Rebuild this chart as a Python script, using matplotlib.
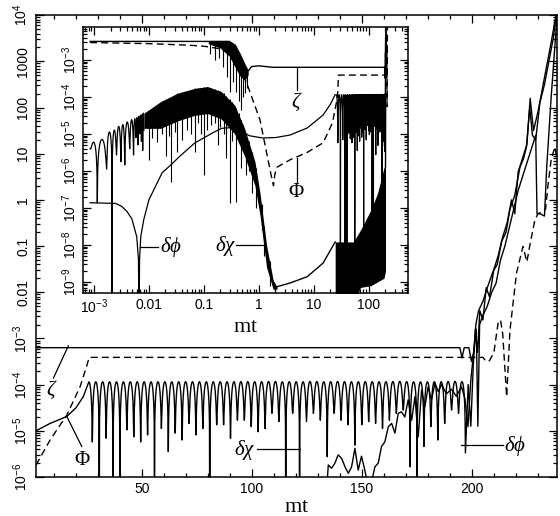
import numpy as np
import matplotlib
matplotlib.use("Agg")
import matplotlib.pyplot as plt
from matplotlib.ticker import MultipleLocator, LogLocator, NullFormatter

plt.rcParams['font.family'] = ['Liberation Sans', 'DejaVu Sans']
plt.rcParams['mathtext.fontset'] = 'custom'
plt.rcParams['mathtext.rm'] = 'Liberation Serif'
plt.rcParams['mathtext.it'] = 'Liberation Serif:italic'
plt.rcParams['mathtext.sf'] = 'Liberation Sans'

# all curve values below are log10 of the plotted quantity

# ---- main panel, mt linear ----
zeta_t = [1.8, 194.5, 195.5, 196.5, 198.6, 199.8, 200.8, 201.8, 203, 205, 207, 209.6,
          211.5, 213.5, 215.5, 217.3, 219.5, 221.8, 223.5, 224.8, 226.3, 227.5, 229,
          230.9, 233, 235, 237, 238.6]
zeta_v = [-3.2, -3.2, -3.42, -3.2, -3.2, -3.5, -3.3, -2.7, -2.4, -2.2, -1.9, -1.55,
          -1.4, -0.9, -0.7, -0.2, 0.1, 0.7, 0.9, 1.15, 2.0, 1.4, 1.3,
          2.1, 2.5, 3.0, 3.5, 4.1]

phi_t = [1.8, 8.2, 15.8, 21.8, 24.5, 26.0, 205, 206.5, 208, 210, 211.9, 213, 214,
         215.8, 217.3, 220.3, 223.2, 225, 226.5, 228.6, 230, 232, 233.5, 234.5, 236,
         237.7, 238.6]
phi_v = [-5.74, -5.2, -4.66, -4.05, -3.65, -3.41, -3.41, -3.5, -3.48, -3.3, -2.67, -2.6,
         -2.9, -4.26, -2.82, -1.58, -1.01, -1.34, -0.94, -0.44, -0.3, -0.25, -0.2, 0.28,
         0.86, 1.15, 0.9]

# delta phi: smooth growth, then oscillation with period pi in mt
dphi_early_t = [1.8, 8.2, 15.8, 20, 23.3, 25.83]
dphi_early_v = [-5.0, -4.84, -4.69, -4.5, -4.26, -3.94]
dphi_crest = -3.94
dphi_first_trough = 27.4
dphi_period = np.pi
dphi_troughs = [-5.24, -8, -5.16, -8, -8, -4.98, -5.13, -5.24, -5.09, -8,
                -4.95, -5.45, -5.05, -5.2, -4.84, -5.09, -4.95, -8, -4.87, -4.87,
                -5.16, -4.77, -4.77, -4.91, -5.02, -4.95, -4.62, -4.80, -8, -4.62,
                -8, -4.80, -4.62, -4.77, -5.56, -4.62, -4.77, -4.87, -5.31, -4.87,
                -4.80, -4.84, -4.95, -4.77, -4.62, -4.55, -5.78, -8, -5.34, -4.91,
                -5.2, -4.84, -4.55, -4.62, -5.48]
dphi_post_t = [198.3, 199.5, 200.6, 201.6, 202.6, 203.6, 205, 206.5, 208, 210, 212,
               214, 216, 218, 219.5, 221, 223, 225, 226.5, 228, 230, 232, 234, 236, 238.6]
dphi_post_v = [-4.0, -4.9, -3.6, -2.8, -3.3, -2.4, -2.6, -1.9, -2.1, -1.5, -1.2,
               -0.8, -0.5, 0.0, -0.3, 0.6, 0.9, 1.2, 2.2, 1.5, 1.9, 2.4, 2.9, 3.4, 4.1]

dchi_t = [133.9, 134.7, 136.2, 137.7, 139.2, 140.8, 142.3, 143.8, 145.3, 146.8, 148.3,
          149.8, 151.3, 152.8, 154.4, 155.9, 157.4, 158.9, 160.4, 162, 163.5, 165,
          166.5, 168, 169.5, 171, 172.6, 174.1, 175.6, 177.1, 178.6, 180.1, 181.6,
          183.2, 184.7, 186.2, 188.4, 190.7, 192.9, 195.3, 196.8, 198.2, 199.5, 200.8,
          202, 202.7, 203.5, 205, 207, 209, 211, 213, 215, 217, 219, 221, 223, 225,
          227, 229, 229.6, 231, 233, 234, 236, 238.6]
dchi_v = [-6.3, -5.74, -5.81, -5.70, -5.52, -5.6, -5.78, -5.92, -5.78, -5.38, -5.85,
          -5.55, -5.85, -6.2, -6.1, -5.78, -5.70, -5.34, -5.24, -4.91, -4.84, -5.05,
          -4.62, -4.59, -4.7, -4.33, -4.77, -4.26, -5.13, -4.12, -4.48, -4.05, -4.33,
          -3.97, -4.15, -4.0, -4.2, -4.1, -4.25, -4.05, -4.3, -4.91, -3.9, -3.3,
          -2.8, -4.9, -2.7, -2.5, -2.3, -2.0, -1.8, -1.3, -1.0, -0.6, -0.2, 0.2, 0.5,
          0.8, 1.1, 1.4, -0.3, -0.3, -0.35, 0.7, 2.2, 3.9]

# ---- inset, mt logarithmic (early times only; later times reuse the main arrays) ----
zeta_in_t = [8.5e-4, 0.29, 0.37, 0.46, 0.56, 0.64, 0.74, 1.0]
zeta_in_v = [-2.5, -2.5, -2.6, -2.86, -3.14, -3.3, -3.18, -3.16]
zp_band_t = [0.12, 0.2, 0.29, 0.37, 0.46, 0.56, 0.64]
zp_band_hi = [-2.5, -2.5, -2.5, -2.6, -2.86, -3.14, -3.3]
zp_band_lo = [-2.56, -2.68, -2.9, -3.2, -3.45, -3.55, -3.4]
zp_spike_t = [0.13, 0.16, 0.19, 0.22, 0.26, 0.3, 0.34, 0.38, 0.43, 0.47, 0.52, 0.57, 0.62]
zp_spike_v = [-2.85, -3.0, -2.95, -3.2, -3.45, -3.86, -3.6, -3.86, -4.1, -4.35, -4.0, -3.9, -3.75]

phi_in_t = [8.5e-4, 0.01, 0.05, 0.1, 0.2, 0.3, 0.45, 0.6, 1.05, 1.47, 1.7, 1.85, 1.95,
            2.14, 3.7, 7.6, 14.8, 21.9, 27, 28.2]
phi_in_v = [-2.53, -2.56, -2.6, -2.63, -2.7, -2.85, -3.2, -3.62, -4.62, -5.7, -6.16,
            -6.4, -6.1, -5.9, -5.7, -5.5, -5.24, -4.7, -4.0, -3.41]

dphi_in_t = [8.5e-4, 2.5e-3, 3.2e-3, 4.0e-3, 4.9e-3, 6.0e-3, 6.45e-3, 6.6e-3, 6.75e-3,
             7.1e-3, 8.1e-3, 0.01, 0.0174, 0.025, 0.0355, 0.0676, 0.145, 0.209, 0.316,
             0.479, 0.676, 1.17, 2.0, 3.7, 7.6, 14.8, 20, 24.5]
dphi_in_v = [-6.86, -6.88, -6.96, -7.1, -7.3, -7.78, -8.4, -10.5, -8.4,
             -7.78, -7.3, -6.78, -6.05, -5.84, -5.62, -5.25, -4.97, -4.85, -4.83,
             -4.94, -5.05, -5.11, -5.1, -5.03, -4.84, -4.49, -4.2, -3.94]

dchi_arch_t = [8.5e-4, 1.15e-3, 1.7e-3, 2.14e-3, 2.57e-3, 3.09e-3, 3.63e-3, 4.47e-3,
               5.25e-3, 5.8e-3, 6.3e-3, 6.8e-3, 7.3e-3, 7.7e-3, 8.1e-3]
dchi_arch_trough = [-5.4, -6.86, -5.95, -9.8, -5.57, -5.75, -5.84, -5.4,
                    -5.57, -5.1, -5.3, -5.0, -5.2, -5.45, -4.9]
dchi_arch_crest = [-5.25, -5.15, -4.95, -4.9, -4.8, -4.75, -4.68, -4.62,
                   -4.6, -4.57, -4.54, -4.51, -4.48, -4.45]
dchi_band_t = [8.1e-3, 0.0162, 0.0331, 0.0676, 0.117, 0.209, 0.363, 0.55, 0.85,
               1.05, 1.38, 1.82, 2.14]
dchi_band_hi = [-4.44, -4.13, -3.9, -3.77, -3.72, -3.86, -4.22, -4.85, -5.75,
                -6.6, -8.0, -8.95, -9.13]
dchi_band_lo = [-4.85, -4.85, -4.65, -4.5, -4.45, -4.6, -5.0, -5.6, -6.4,
                -7.2, -8.6, -9.2, -9.2]
dchi_spike_t = [0.01, 0.0112, 0.0141, 0.017, 0.0204, 0.0234, 0.0257,
                0.0295, 0.0331, 0.0407, 0.05, 0.0575, 0.0676, 0.0794, 0.0891, 0.1, 0.112,
                0.135, 0.158, 0.178, 0.2, 0.229, 0.257, 0.295, 0.331, 0.389, 0.427, 0.479,
                0.525, 0.589, 0.661, 0.759, 0.891, 1.12, 1.26, 1.58]
dchi_spike_v = [-5.7, -5.1, -5.21, -5.0, -5.61, -5.05, -6.29,
                -4.95, -5.48, -5.16, -4.9, -5.0, -5.48, -4.7, -5.0, -6.11, -4.9,
                -4.76, -4.7, -5.3, -4.8, -5.0, -5.66, -6.86, -5.2, -6.83, -5.0, -5.93,
                -5.4, -6.11, -6.0, -6.6, -7.0, -7.6, -8.3, -9.1]
dchi_rise_t = [2.14, 3.7, 7.6, 14.8, 24.5]
dchi_rise_v = [-9.13, -9.03, -8.86, -8.49, -7.92]
dchi_late_t = [24.5, 52.5, 70.8, 110, 145, 190, 202]
dchi_late_hi = [-7.92, -7.92, -7.6, -7.05, -6.6, -5.9, -5.9]
dchi_late_lo = [-9.6, -9.6, -9.15, -9.1, -9.0, -8.9, -8.7]
dchi_in_post_t = [202, 204.5, 206]
dchi_in_post_v = [-5.9, -2.6, -1.8]


def arches(t_tr, tr_v, crest_v, n=20, geometric=False):
    # rounded crests between listed troughs, sharp cusps at the troughs
    t_out, v_out = [], []
    for k in range(len(t_tr) - 1):
        s = np.linspace(0.0, 1.0, n, endpoint=False)
        if geometric:
            tt = t_tr[k] * (t_tr[k + 1] / t_tr[k]) ** s
        else:
            tt = t_tr[k] + (t_tr[k + 1] - t_tr[k]) * s
        c = crest_v[k]
        e0 = 10 ** (tr_v[k] - c)
        e1 = 10 ** (tr_v[k + 1] - c)
        eps = e0 + (e1 - e0) * s
        t_out.append(tt)
        v_out.append(c + 0.5 * np.log10(np.sin(np.pi * s) ** 2 + eps ** 2))
    t_out.append([t_tr[-1]])
    v_out.append([tr_v[-1]])
    return np.concatenate(t_out), np.concatenate(v_out)


# delta phi oscillation (shared by both panels); a lead-in trough one period
# before the first one gives the crest where the smooth part ends
tr_times = dphi_first_trough + dphi_period * np.arange(-1, len(dphi_troughs))
tr_depth = [dphi_troughs[0]] + dphi_troughs
osc_t, osc_v = arches(tr_times, tr_depth, [dphi_crest] * (len(tr_times) - 1), n=24)
keep = osc_t > dphi_early_t[-1]
osc_t, osc_v = osc_t[keep], osc_v[keep]

dphi_t = np.concatenate([dphi_early_t, osc_t, dphi_post_t])
dphi_v = np.concatenate([dphi_early_v, osc_v, dphi_post_v])
dphi_in_full_t = np.concatenate([dphi_in_t, osc_t, dphi_post_t])
dphi_in_full_v = np.concatenate([dphi_in_v, osc_v, dphi_post_v])

zeta_in_full_t = np.concatenate([zeta_in_t, zeta_t])
zeta_in_full_v = np.concatenate([zeta_in_v, zeta_v])
late_phi = np.array(phi_t) > phi_in_t[-1]
phi_in_full_t = np.concatenate([phi_in_t, np.array(phi_t)[late_phi]])
phi_in_full_v = np.concatenate([phi_in_v, np.array(phi_v)[late_phi]])

ach_t, ach_v = arches(dchi_arch_t, dchi_arch_trough, dchi_arch_crest, n=30, geometric=True)

p10 = lambda v: 10.0 ** np.asarray(v, dtype=float)
lw = 1.0
dash = (0, (5, 3))

fig = plt.figure(figsize=(5.6, 5.16), dpi=100)

# ================= main panel =================
ax = fig.add_axes([0.0643, 0.0756, 0.930, 0.895])
ax.set_yscale('log')
ax.plot(zeta_t, p10(zeta_v), color='k', lw=lw)
ax.plot(phi_t, p10(phi_v), color='k', lw=lw, ls=dash)
ax.plot(dphi_t, p10(dphi_v), color='k', lw=lw)
ax.plot(dchi_t, p10(dchi_v), color='k', lw=lw)
ax.set_xlim(1.8, 238.6)
ax.set_ylim(1e-6, 1e4)

ax.xaxis.set_major_locator(MultipleLocator(50))
ax.xaxis.set_minor_locator(MultipleLocator(10))
main_yticks = [1e-6, 1e-5, 1e-4, 1e-3, 1e-2, 1e-1, 1, 10, 100, 1000, 1e4]
main_ylabels = [r'$\mathsf{10^{-6}}$', r'$\mathsf{10^{-5}}$', r'$\mathsf{10^{-4}}$',
                r'$\mathsf{10^{-3}}$', '0.01', '0.1', '1', '10', '100', '1000',
                r'$\mathsf{10^{4}}$']
ax.set_yticks(main_yticks, main_ylabels)
ax.yaxis.set_minor_locator(LogLocator(base=10, subs=np.arange(2, 10), numticks=20))
ax.yaxis.set_minor_formatter(NullFormatter())
ax.tick_params(which='both', direction='in', top=True, right=True, width=0.9)
ax.tick_params(which='major', length=6, labelsize=10)
ax.tick_params(which='minor', length=3)
ax.tick_params(axis='y', labelrotation=90, pad=4)
for lab in ax.get_yticklabels():
    lab.set_va('center')
ax.set_xlabel(r'$\mathrm{mt}$', fontsize=16, labelpad=0)
for sp in ax.spines.values():
    sp.set_linewidth(1.1)

lab_kw = dict(fontsize=15, ha='center', va='center')
ax.plot([9.7, 16.5], [10 ** -3.86, 10 ** -3.16], color='k', lw=0.9)
ax.text(8.9, 10 ** -4.12, r'$\zeta$', **lab_kw)
ax.plot([15.8, 22.6], [10 ** -4.69, 10 ** -5.34], color='k', lw=0.9)
ax.text(22.8, 10 ** -5.63, r'$\Phi$', **lab_kw)
ax.plot([102.3, 121.8], [10 ** -5.39, 10 ** -5.39], color='k', lw=0.9)
ax.text(96.8, 10 ** -5.42, r'$\delta\chi$', **lab_kw)
ax.plot([195.0, 214.0], [10 ** -5.31, 10 ** -5.31], color='k', lw=0.9)
ax.text(219.8, 10 ** -5.33, r'$\delta\phi$', **lab_kw)

# ================= inset =================
ins = fig.add_axes([0.1482, 0.4322, 0.5804, 0.5155])
ins.set_xscale('log')
ins.set_yscale('log')
ins.fill_between(zp_band_t, p10(zp_band_lo), p10(zp_band_hi), color='k', lw=0)
ins.vlines(zp_spike_t, p10(np.interp(zp_spike_t, zp_band_t, zp_band_hi)), p10(zp_spike_v),
           color='k', lw=0.8)
ins.plot(zeta_in_full_t, p10(zeta_in_full_v), color='k', lw=lw)
ins.plot(phi_in_full_t, p10(phi_in_full_v), color='k', lw=lw, ls=dash)
ins.plot(dphi_in_full_t, p10(dphi_in_full_v), color='k', lw=0.9)

ins.plot(ach_t, p10(ach_v), color='k', lw=0.9)
ins.fill_between(dchi_band_t, p10(dchi_band_lo), p10(dchi_band_hi), color='k', lw=0)
ins.vlines(dchi_spike_t, p10(np.interp(dchi_spike_t, dchi_band_t, dchi_band_hi)),
           p10(dchi_spike_v), color='k', lw=0.8)
ins.plot(dchi_rise_t, p10(dchi_rise_v), color='k', lw=lw)
ins.fill_between(dchi_late_t, p10(dchi_late_lo), p10(dchi_late_hi), color='k', lw=0)
ins.plot(dchi_in_post_t, p10(dchi_in_post_v), color='k', lw=lw)

ins.set_xlim(10 ** -3.2, 10 ** 2.715)
ins.set_ylim(10 ** -9.3, 10 ** -2.11)
ins.set_xticks([1e-3, 1e-2, 1e-1, 1, 10, 100],
               [r'$\mathsf{10^{-3}}$', '0.01', '0.1', '1', '10', '100'])
ins.set_yticks([1e-9, 1e-8, 1e-7, 1e-6, 1e-5, 1e-4, 1e-3],
               [r'$\mathsf{10^{-%d}}$' % k for k in range(9, 2, -1)])
ins.xaxis.set_minor_locator(LogLocator(base=10, subs=np.arange(2, 10), numticks=20))
ins.yaxis.set_minor_locator(LogLocator(base=10, subs=np.arange(2, 10), numticks=20))
ins.xaxis.set_minor_formatter(NullFormatter())
ins.yaxis.set_minor_formatter(NullFormatter())
ins.tick_params(which='both', direction='in', top=True, right=True, width=0.9)
ins.tick_params(which='major', length=6, labelsize=10)
ins.tick_params(which='minor', length=3)
ins.tick_params(axis='y', labelrotation=90, pad=3)
for lab in ins.get_yticklabels():
    lab.set_va('center')
ins.set_xlabel(r'$\mathrm{mt}$', fontsize=16, labelpad=0)
for sp in ins.spines.values():
    sp.set_linewidth(1.1)

ins.plot([10 ** -2.16, 10 ** -1.83], [10 ** -8.05, 10 ** -8.05], color='k', lw=0.9)
ins.text(10 ** -1.6, 10 ** -8.07, r'$\delta\phi$', **lab_kw)
ins.plot([10 ** -0.41, 10 ** 0.11], [10 ** -8.0, 10 ** -8.0], color='k', lw=0.9)
ins.text(10 ** -0.6, 10 ** -8.02, r'$\delta\chi$', **lab_kw)
ins.plot([10 ** 0.69, 10 ** 0.69], [10 ** -3.18, 10 ** -3.81], color='k', lw=0.9)
ins.text(10 ** 0.69, 10 ** -4.13, r'$\zeta$', **lab_kw)
ins.plot([10 ** 0.69, 10 ** 0.69], [10 ** -5.65, 10 ** -6.3], color='k', lw=0.9)
ins.text(10 ** 0.69, 10 ** -6.55, r'$\Phi$', **lab_kw)

fig.savefig('out.png', dpi=100)
